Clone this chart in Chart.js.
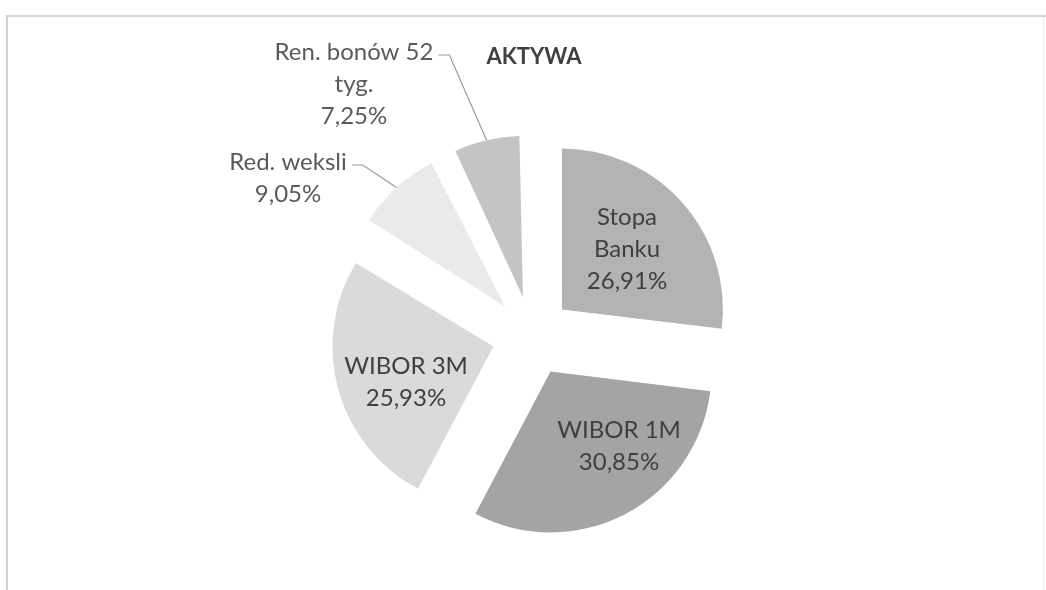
<!DOCTYPE html>
<html lang="pl">
<head>
<meta charset="utf-8">
<title>AKTYWA</title>
<script src="https://cdn.jsdelivr.net/npm/chart.js@4.4.1/dist/chart.umd.min.js"></script>
<style>
  html, body { margin: 0; padding: 0; background: #ffffff; }
  #wrap { position: relative; width: 1046px; height: 590px; }
</style>
</head>
<body>
<div id="wrap"><canvas id="c" width="1046" height="590"></canvas></div>
<script>
// Asset structure (shares in %)
const categories = ['Stopa Banku', 'WIBOR 1M', 'WIBOR 3M', 'Red. weksli', 'Ren. bonów 52 tyg.'];
const shares = [26.91, 30.85, 25.93, 9.05, 7.25];
const labelLines = [['Stopa', 'Banku'], ['WIBOR 1M'], ['WIBOR 3M'], ['Red. weksli'], ['Ren. bonów 52', 'tyg.']];
const chartTitle = 'AKTYWA';

// Styling
const sliceColors = ['#b3b3b3', '#a4a4a4', '#dadada', '#eaeaea', '#c4c4c4'];
const explode = 40;          // px each slice is pulled out of the centre
const pieRadius = 161;
const fontFamily = 'Lato, "Open Sans", sans-serif';

// Label anchors relative to the pie centre; outside labels get a leader line
const labelPlacement = [
  { dx: 95,   dy: -87,  inside: true },
  { dx: 87,   dy: 110,  inside: true },
  { dx: -126, dy: 46,   inside: true },
  { dx: -244, dy: -158, inside: false },
  { dx: -178, dy: -252, inside: false }
];

const fmtPct = v => v.toFixed(2).replace('.', ',') + '%';

// Keep exploded slices at the same radius (Chart.js enlarges narrow offset arcs)
const evenRadius = {
  id: 'evenRadius',
  beforeDatasetDraw(chart, args) {
    args.meta.data.forEach(arc => {
      const o = (arc.options.offset || 0) / 4;
      const fix = 1 - Math.sin(Math.min(Math.PI, arc.circumference));
      arc.$savedR = arc.outerRadius;
      arc.outerRadius = arc.$savedR - o * fix;
    });
  },
  afterDatasetDraw(chart, args) {
    args.meta.data.forEach(arc => { arc.outerRadius = arc.$savedR; });
  }
};

// Frame, title, slice labels and leader lines
const decorations = {
  id: 'decorations',
  beforeDraw(chart) {
    const ctx = chart.ctx;
    ctx.save();
    ctx.fillStyle = '#ffffff';
    ctx.fillRect(0, 0, chart.width, chart.height);
    ctx.strokeStyle = '#d2d2d2';
    ctx.lineWidth = 2;
    ctx.beginPath();
    ctx.moveTo(7, chart.height);
    ctx.lineTo(7, 16);
    ctx.lineTo(chart.width, 16);
    ctx.stroke();
    ctx.strokeStyle = '#eeeeee';
    ctx.lineWidth = 1;
    ctx.beginPath();
    ctx.moveTo(1043.5, 17);
    ctx.lineTo(1043.5, chart.height);
    ctx.stroke();
    ctx.restore();
  },
  afterDatasetsDraw(chart) {
    const ctx = chart.ctx;
    const meta = chart.getDatasetMeta(0);
    const cx = meta.data[0].x, cy = meta.data[0].y;
    ctx.save();

    // title
    ctx.font = 'bold 22px ' + fontFamily;
    ctx.fillStyle = '#404040';
    ctx.textAlign = 'center';
    ctx.textBaseline = 'middle';
    ctx.fillText(chartTitle, cx + 2, 57);

    const lineH = 32;
    ctx.font = '24px ' + fontFamily;
    meta.data.forEach((arc, i) => {
      const p = labelPlacement[i];
      const lines = labelLines[i].concat([fmtPct(shares[i])]);
      const ax = cx + p.dx, ay = cy + p.dy;
      const top = ay - (lines.length - 1) * lineH / 2;
      ctx.fillStyle = p.inside ? '#3f3f3f' : '#5a5a5a';
      lines.forEach((t, k) => ctx.fillText(t, ax, top + k * lineH));

      if (!p.inside) {
        const mid = (arc.startAngle + arc.endAngle) / 2;
        const ex = cx + Math.cos(mid) * (explode + pieRadius);
        const ey = cy + Math.sin(mid) * (explode + pieRadius);
        const right = ax + ctx.measureText(lines[0]).width / 2;
        const ly = top + 3;
        ctx.strokeStyle = '#9a9a9a';
        ctx.lineWidth = 1.2;
        ctx.beginPath();
        ctx.moveTo(right + 5, ly);
        ctx.lineTo(right + 16, ly);
        ctx.lineTo(ex, ey);
        ctx.stroke();
      }
    });
    ctx.restore();
  }
};

new Chart(document.getElementById('c'), {
  type: 'pie',
  data: {
    labels: categories,
    datasets: [{
      data: shares,
      backgroundColor: sliceColors,
      borderWidth: 0,
      offset: explode * 4,
      hoverOffset: 0,
      radius: pieRadius
    }]
  },
  options: {
    responsive: false,
    animation: false,
    events: [],
    layout: { padding: { top: 100, bottom: 18, left: 118, right: 100 } },
    plugins: {
      legend: { display: false },
      tooltip: { enabled: false },
      title: { display: false }
    }
  },
  plugins: [evenRadius, decorations]
});
</script>
</body>
</html>
